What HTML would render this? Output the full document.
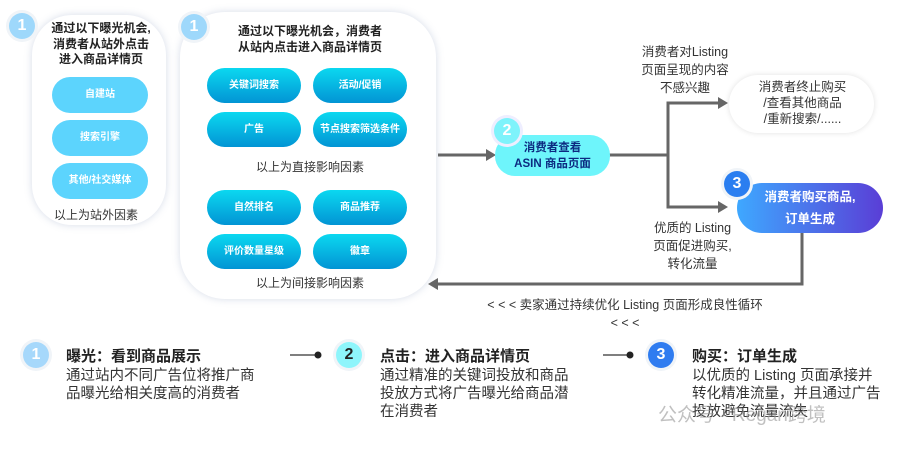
<!DOCTYPE html>
<html><head><meta charset="utf-8"><style>
*{margin:0;padding:0;box-sizing:border-box}
body{width:910px;height:451px;background:#fff;position:relative;overflow:hidden;font-family:"Liberation Sans","Noto Sans CJK SC",sans-serif;color:#333}
.a{position:absolute}
.card{position:absolute;background:#fff;box-shadow:0 0 8px rgba(120,140,180,.3)}
.badge{position:absolute;width:26px;height:26px;border-radius:50%;color:#fff;font-size:16px;font-weight:bold;text-align:center;line-height:26px;box-shadow:0 0 0 3px #f0f4f8}
.p1{position:absolute;left:52px;width:96px;height:36px;border-radius:18px;background:#5cd4fd;color:#fff;font-size:10px;font-weight:bold;text-align:center;line-height:36px}
.p2{position:absolute;width:94px;height:35px;border-radius:18px;background:linear-gradient(#0bd8f0,#0294d4);color:#fff;font-size:10px;font-weight:bold;text-align:center;line-height:35px}
.t{position:absolute;text-align:center;font-size:12.5px;line-height:18px}
.b{position:absolute;top:367px;font-size:14.5px;line-height:18px;white-space:nowrap}
</style></head><body>
<div class="card" style="left:32px;top:15px;width:134px;height:210px;border-radius:40px"></div>
<div class="badge" style="left:9px;top:13px;background:#9ed8fb">1</div>
<div class="t" style="left:40px;top:21px;width:122px;font-weight:bold;font-size:12px;line-height:15.5px;color:#222">通过以下曝光机会,<br>消费者从站外点击<br>进入商品详情页</div>
<div class="p1" style="top:77px">自建站</div>
<div class="p1" style="top:120px">搜索引擎</div>
<div class="p1" style="top:163px">其他/社交媒体</div>
<div class="t" style="left:40px;top:206px;width:112px;font-size:12px">以上为站外因素</div>

<div class="card" style="left:180px;top:12px;width:256px;height:287px;border-radius:45px"></div>
<div class="badge" style="left:181px;top:14px;background:#9ed8fb">1</div>
<div class="t" style="left:220px;top:24px;width:180px;font-weight:bold;font-size:12px;line-height:15.5px;color:#222">通过以下曝光机会，消费者<br>从站内点击进入商品详情页</div>
<div class="p2" style="left:207px;top:68px">关键词搜索</div>
<div class="p2" style="left:313px;top:68px">活动/促销</div>
<div class="p2" style="left:207px;top:112px">广告</div>
<div class="p2" style="left:313px;top:112px">节点搜索筛选条件</div>
<div class="t" style="left:240px;top:158px;width:140px;font-size:12px">以上为直接影响因素</div>
<div class="p2" style="left:207px;top:190px">自然排名</div>
<div class="p2" style="left:313px;top:190px">商品推荐</div>
<div class="p2" style="left:207px;top:234px">评价数量星级</div>
<div class="p2" style="left:313px;top:234px">徽章</div>
<div class="t" style="left:240px;top:274px;width:140px;font-size:12px">以上为间接影响因素</div>

<svg class="a" style="left:0;top:0" width="910" height="451">
<g stroke="#666" stroke-width="3" fill="none">
<line x1="438" y1="155" x2="488" y2="155"/>
<polyline points="608,155 668,155"/>
<polyline points="720,103 668,103 668,207 720,207"/>
<polyline points="802,232 802,284 438,284"/>
</g>
<g fill="#666">
<polygon points="496,155 486,149 486,161"/>
<polygon points="728,103 718,97 718,109"/>
<polygon points="728,207 718,201 718,213"/>
<polygon points="428,284 438,278 438,290"/>
</g>
<g stroke="#555" stroke-width="1.5"><line x1="290" y1="355" x2="316" y2="355"/><line x1="603" y1="355" x2="628" y2="355"/></g>
<circle cx="318" cy="355" r="3.5" fill="#222"/><circle cx="630" cy="355" r="3.5" fill="#222"/>
</svg>

<div class="a" style="left:495px;top:135px;width:115px;height:41px;border-radius:20px;background:#6ef5fb;color:#0c2a80;font-size:11.5px;font-weight:bold;text-align:center;line-height:16px;padding-top:5px">消费者查看<br>ASIN 商品页面</div>
<div class="badge" style="left:494px;top:118px;background:#7ef3fb;box-shadow:0 0 0 3px #eef">2</div>

<div class="t" style="left:625px;top:43px;width:120px;font-size:12.5px">消费者对Listing<br>页面呈现的内容<br>不感兴趣</div>
<div class="card" style="left:729px;top:75px;width:145px;height:58px;border-radius:29px;box-shadow:0 0 6px rgba(0,0,0,.12)"></div>
<div class="t" style="left:740px;top:79px;width:125px;font-size:12.5px;line-height:16px">消费者终止购买<br>/查看其他商品<br>/重新搜索/......</div>

<div class="a" style="left:737px;top:183px;width:146px;height:50px;border-radius:25px;background:linear-gradient(90deg,#3ea8ff,#5a3ed6);color:#fff;font-size:12.5px;font-weight:bold;text-align:center;line-height:22px;padding-top:3px">消费者购买商品,<br>订单生成</div>
<div class="badge" style="left:724px;top:171px;background:#2a7ef0">3</div>

<div class="t" style="left:630px;top:219px;width:125px;font-size:12.5px">优质的 Listing<br>页面促进购买,<br>转化流量</div>
<div class="t" style="left:470px;top:296px;width:310px;font-size:12.5px">&lt; &lt; &lt; 卖家通过持续优化 Listing 页面形成良性循环<br>&lt; &lt; &lt;</div>

<div class="badge" style="left:23px;top:342px;background:#a6d8fb">1</div>
<div class="a" style="left:66px;top:345px;font-size:15px;font-weight:bold;color:#222">曝光：看到商品展示</div>
<div class="b" style="left:66px">通过站内不同广告位将推广商<br>品曝光给相关度高的消费者</div>

<div class="badge" style="left:336px;top:342px;background:#8ef5fb;color:#222">2</div>
<div class="a" style="left:380px;top:345px;font-size:15px;font-weight:bold;color:#222">点击：进入商品详情页</div>
<div class="b" style="left:380px">通过精准的关键词投放和商品<br>投放方式将广告曝光给商品潜<br>在消费者</div>

<div class="badge" style="left:648px;top:342px;background:#2f7cf0">3</div>
<div class="a" style="left:692px;top:345px;font-size:15px;font-weight:bold;color:#222">购买：订单生成</div>
<div class="b" style="left:692px">以优质的 Listing 页面承接并<br>转化精准流量，并且通过广告<br>投放避免流量流失</div>
<div class="a" style="left:658px;top:400px;font-size:19px;color:rgba(150,150,150,.6)">公众号 · Regan跨境</div>
</body></html>
